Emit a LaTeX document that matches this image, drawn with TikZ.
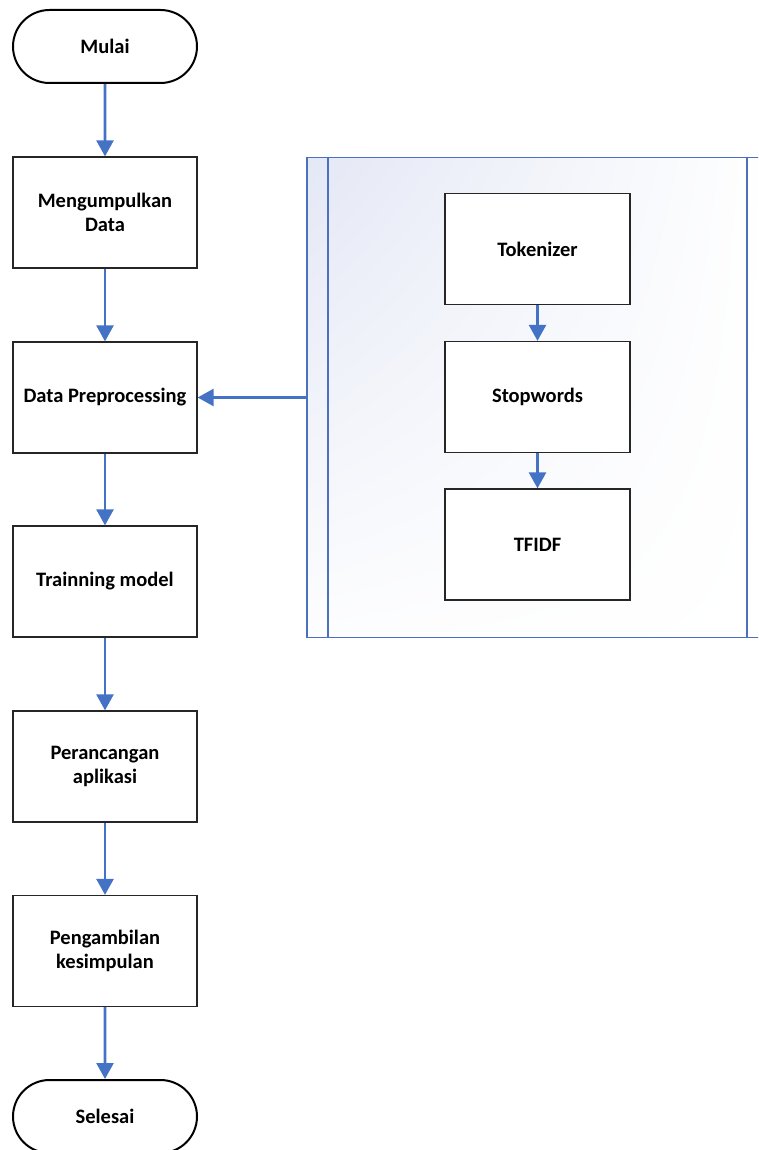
\documentclass[tikz,border=0pt]{standalone}
\usepackage{fontspec}
\setmainfont{Carlito}
\usetikzlibrary{arrows.meta,shapes.misc,shadings}
\definecolor{flowblue}{RGB}{68,114,196}
\definecolor{contblue}{RGB}{74,112,190}
\definecolor{shadeblue}{RGB}{228,232,245}
\begin{document}
\begin{tikzpicture}[x=1pt,y=-1pt,
  txt/.style={font=\fontsize{20.5}{24}\selectfont\bfseries, align=center, text=black},
  procbox/.style={txt, draw=black!85, line width=1.3pt, fill=white, minimum width=184pt, minimum height=111pt, inner sep=0pt},
  terminal/.style={txt, draw=black, line width=2pt, fill=white, rounded rectangle, minimum width=184pt, minimum height=73pt, inner sep=0pt},
  flow/.style={draw=flowblue, line width=2.6pt, -{Triangle[width=17pt,length=16pt]}},
  contline/.style={draw=contblue, line width=1.6pt}
]
\useasboundingbox (0,0) rectangle (758,1150);
\clip (0,0) rectangle (758,1150);

% container
\node[minimum width=461pt, minimum height=480pt, inner sep=0pt,
      upper left=shadeblue, upper right=white, lower left=white!92!shadeblue, lower right=white,
      draw=contblue, line width=1.6pt] (cont) at (537.5,397.5) {};
\draw[contline] ([xshift=22pt]cont.north west) -- ([xshift=22pt]cont.south west);
\draw[contline] ([xshift=-22pt]cont.north east) -- ([xshift=-22pt]cont.south east);

% main column
\node[terminal] (mulai) at (105,46.5) {Mulai};
\node[procbox] (data) at (105,212.5) {Mengumpulkan\\Data};
\node[procbox] (prep) at (105,397.5) {Data Preprocessing};
\node[procbox] (train) at (105,581.5) {Trainning model};
\node[procbox] (rancang) at (105,766.5) {Perancangan\\aplikasi};
\node[procbox] (ambil) at (105,951) {Pengambilan\\kesimpulan};
\node[terminal] (selesai) at (105,1116.5) {Selesai};

% inner column
\node[procbox, minimum width=185pt] (tok) at (537.5,249) {Tokenizer};
\node[procbox, minimum width=185pt] (stop) at (537.5,397) {Stopwords};
\node[procbox, minimum width=185pt] (tfidf) at (537.5,544.5) {TFIDF};

% connectors
\draw[flow] (mulai) -- (data);
\draw[flow] (data) -- (prep);
\draw[flow] (prep) -- (train);
\draw[flow] (train) -- (rancang);
\draw[flow] (rancang) -- (ambil);
\draw[flow] (ambil) -- (selesai);
\draw[flow] (tok) -- (stop);
\draw[flow] (stop) -- (tfidf);
\draw[flow] (cont.west |- prep.east) -- (prep.east);
\end{tikzpicture}
\end{document}
